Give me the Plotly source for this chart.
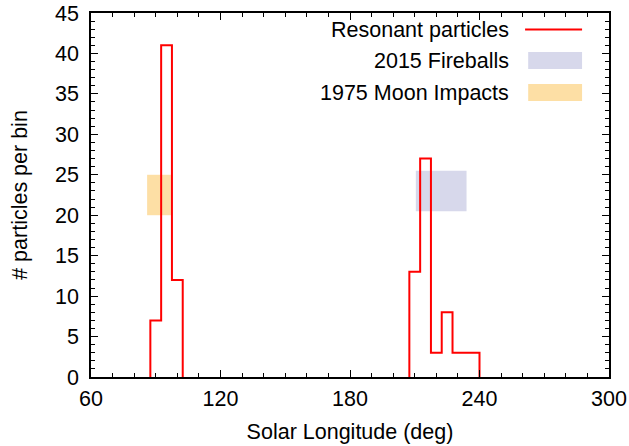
import plotly.graph_objects as go

# Histogram data (bin edges in deg, counts per bin)
cluster1_edges = [87.5, 92.5, 97.5, 102.5]
cluster1_counts = [7, 41, 12]
cluster2_edges = [207.5, 212.5, 217.5, 222.5, 227.5, 240.0]
cluster2_counts = [13, 27, 3, 8, 3]

# Observation windows [x0, x1, y0, y1]
moon_box = [86, 97, 20, 25]
fireball_box = [210.5, 234, 20.5, 25.5]

x_ticks = [60, 120, 180, 240, 300]
y_ticks = [0, 5, 10, 15, 20, 25, 30, 35, 40, 45]

RED = "#ff0000"
ORANGE = "rgb(253,223,165)"
BLUE = "rgb(215,216,235)"
FONT = "Liberation Sans, Arial, sans-serif"
FS = 21.5


def step_points(edges, counts):
    xs = [edges[0]] + edges[:-1] + [edges[-1]]
    ys = [0] + counts + [0]
    return xs, ys


x1, y1 = step_points(cluster1_edges, cluster1_counts)
x2, y2 = step_points(cluster2_edges, cluster2_counts)
xs = x1 + [None] + x2
ys = y1 + [None] + y2

fig = go.Figure()
fig.add_trace(go.Scatter(x=xs, y=ys, mode="lines", line=dict(color=RED, width=2, shape="hv"),
                         connectgaps=False, showlegend=False, hoverinfo="skip"))

for box, col in [(moon_box, ORANGE), (fireball_box, BLUE)]:
    fig.add_shape(type="rect", xref="x", yref="y", x0=box[0], x1=box[1], y0=box[2], y1=box[3],
                  fillcolor=col, line=dict(width=0), layer="below")

# Manual gnuplot-style legend (text right, sample after it)
legend_items = [("Resonant particles", "line", RED), ("2015 Fireballs", "box", BLUE),
                ("1975 Moon Impacts", "box", ORANGE)]
ly = [0.9546, 0.8693, 0.7813]
for (label, kind, col), yy in zip(legend_items, ly):
    fig.add_annotation(xref="paper", yref="paper", x=0.811, y=yy, text=label, showarrow=False,
                       xanchor="right", yanchor="middle", font=dict(size=FS, color="black", family=FONT))
    if kind == "line":
        fig.add_shape(type="line", xref="paper", yref="paper", x0=0.838, x1=0.948, y0=yy, y1=yy,
                      line=dict(color=col, width=2))
    else:
        fig.add_shape(type="rect", xref="paper", yref="paper", x0=0.844, x1=0.948,
                      y0=yy - 0.0234, y1=yy + 0.0234, fillcolor=col, line=dict(width=0))

axis_common = dict(showgrid=False, zeroline=False, showline=True, linecolor="black", linewidth=1.5,
                   mirror="allticks", ticks="inside", ticklen=7, tickwidth=1, tickcolor="black",
                   automargin=False, tickfont=dict(size=FS, family=FONT, color="black"))

fig.update_xaxes(range=[60, 300], tickvals=x_ticks, ticktext=[str(v) for v in x_ticks],
                 ticklabelstandoff=1,
                 title=dict(text="Solar Longitude (deg)", font=dict(size=FS, family=FONT, color="black"), standoff=14),
                 minor=dict(dtick=10, ticks="inside", ticklen=4, tickcolor="black"), **axis_common)
fig.update_yaxes(range=[0, 45], tickvals=y_ticks, ticktext=[str(v) for v in y_ticks],
                 ticklabelstandoff=6,
                 title=dict(text="# particles per bin", font=dict(size=FS, family=FONT, color="black"), standoff=22),
                 minor=dict(dtick=1, ticks="inside", ticklen=4, tickcolor="black"), **axis_common)

fig.update_layout(width=629, height=446, margin=dict(l=91, r=20, t=13, b=69),
                  plot_bgcolor="white", paper_bgcolor="white", showlegend=False,
                  font=dict(family=FONT, size=FS, color="black"))

fig.write_html("out.html", config={"displayModeBar": False},
               post_script="document.body.style.margin='0';document.body.style.padding='0';")
